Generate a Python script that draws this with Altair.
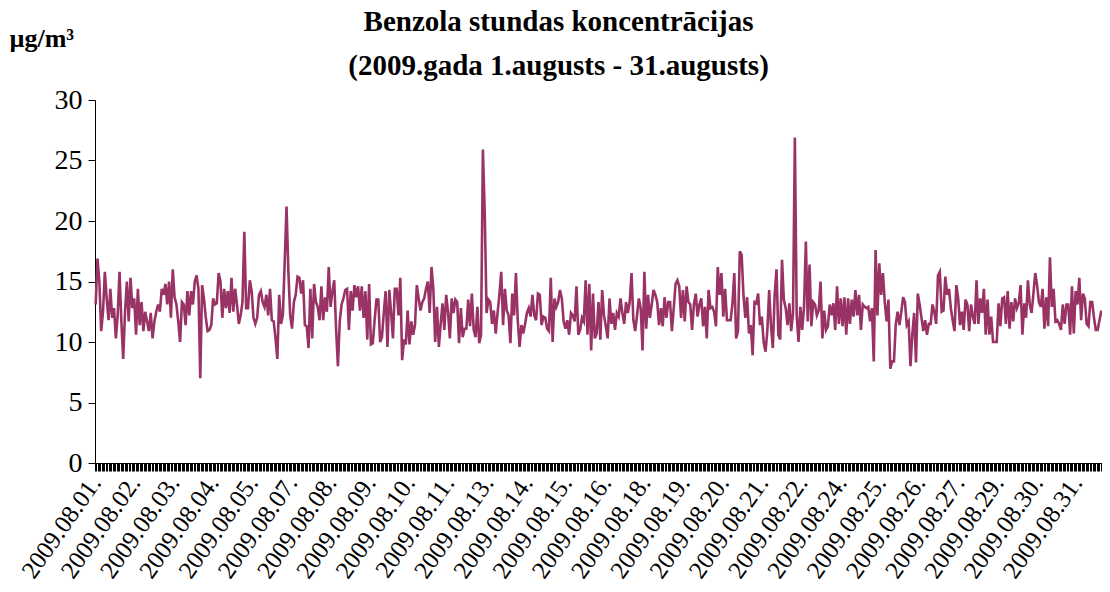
import json
import altair as alt
import pandas as pd

# Hourly benzene concentrations (µg/m3), 1-31 Aug 2009
seg1 = [13.1, 16.9, 15.0, 10.9, 12.5, 15.8, 13.6, 11.8, 14.4, 12.0,
        12.8, 10.3, 12.2, 15.8, 11.7, 8.6, 12.5, 15.0, 11.7, 15.3,
        12.8, 13.6, 10.6, 14.4, 11.4, 13.3, 10.9, 12.5, 11.7, 10.9,
        12.4, 10.3, 11.7, 12.5, 13.1, 12.5, 14.4, 13.9, 14.8, 13.1,
        15.0, 12.0, 16.0, 13.7, 13.1, 11.7, 10.0, 13.3, 13.1, 11.4,
        14.2, 12.2, 14.2, 13.1, 15.0, 15.5, 14.4, 7.0, 14.7, 13.6,
        12.0, 10.9, 11.0, 11.4, 13.6, 13.1, 13.2, 15.7, 15.0, 12.0,
        14.4, 12.8, 14.2, 12.4, 15.3, 12.5, 14.4, 13.1, 11.5, 12.2,
        13.3, 19.1, 12.8, 12.8, 15.1, 14.2, 12.0, 11.5, 12.0, 13.9,
        14.2, 13.3, 12.9, 13.9, 12.2, 14.4, 11.8, 11.7, 10.3, 8.6,
        13.9, 11.5, 12.2, 16.6, 21.2, 15.8, 12.2, 11.1, 13.3, 13.9]

seg2 = [15.4, 15.3, 14.0, 15.1, 11.4, 11.3, 9.5, 14.4, 10.3, 14.8,
        13.3, 12.9, 11.8, 14.6, 11.8, 13.7, 12.5, 16.2, 12.9, 14.2,
        15.1, 11.1, 8.0, 11.7, 13.1, 13.6, 14.3, 14.4, 11.0, 14.2,
        12.6, 14.7, 13.7, 14.6, 12.6, 14.6, 12.0, 14.2, 10.2, 14.8,
        9.8, 9.9, 11.8, 13.5, 13.5, 10.0, 10.4, 12.4, 14.2, 9.6,
        14.3, 12.4, 10.3, 14.4, 14.4, 12.2, 15.3, 8.5, 10.2, 9.8,
        12.6, 9.8, 11.7, 10.6, 11.4, 14.7, 13.6, 12.6, 13.3, 13.6,
        14.4, 15.0, 12.4, 16.2, 14.4, 10.0, 12.9, 9.6, 11.5, 13.2,
        11.0, 13.9, 12.5, 10.3, 13.6, 12.4, 13.5, 13.3, 9.9, 12.8,
        10.4, 11.1, 11.1, 13.5, 11.3, 14.0, 11.0, 10.4, 12.9, 9.9,
        10.6, 25.9, 20.7, 12.4, 13.5, 13.3, 11.5, 12.6]

seg3 = [10.7, 12.4, 13.9, 15.8, 11.4, 14.4, 12.6, 12.2, 9.9, 14.0,
        12.2, 15.7, 11.8, 9.6, 11.4, 10.7, 11.5, 12.4, 12.8, 12.1,
        13.9, 12.2, 11.8, 14.0, 13.9, 11.4, 12.1, 12.0, 11.1, 10.9,
        15.3, 10.0, 13.6, 12.9, 13.3, 14.3, 13.6, 11.7, 11.1, 11.8,
        10.6, 12.4, 12.2, 11.7, 14.6, 10.6, 11.0, 12.0, 11.7, 15.1,
        10.6, 14.8, 9.3, 14.0, 10.3, 10.7, 13.3, 10.2, 14.3, 12.2,
        11.3, 10.3, 13.6, 11.5, 12.4, 11.0, 12.4, 12.1, 13.6, 12.4,
        11.5, 13.3, 12.4, 13.3, 15.7, 11.8, 10.9, 12.2, 13.6, 12.8,
        9.3, 15.8, 11.1, 13.9, 12.0, 13.1, 14.3, 13.9, 13.3, 11.4,
        12.8, 11.3, 13.7, 12.0, 13.3, 13.3, 10.9, 12.8, 14.8, 15.1,
        14.6, 12.0, 14.3, 11.7, 14.6, 13.3, 13.1]

seg4 = [11.0, 13.1, 14.0, 12.1, 13.1, 13.6, 11.3, 12.9, 10.3, 14.3,
        12.8, 12.9, 12.5, 11.3, 16.2, 13.9, 15.7, 12.1, 14.4, 11.8,
        11.8, 11.8, 13.2, 15.7, 10.3, 10.9, 17.5, 17.2, 13.9, 12.0,
        13.7, 10.7, 11.4, 8.9, 13.3, 13.2, 14.0, 11.4, 12.1, 10.0,
        9.2, 10.9, 14.3, 11.3, 9.5, 13.9, 16.0, 10.6, 10.2, 16.8,
        13.5, 12.8, 11.4, 13.2, 10.9, 12.4, 26.9, 12.2, 10.0, 12.9,
        11.0, 12.9, 18.3, 11.7, 16.4, 11.3, 13.3, 13.1, 12.2, 12.6,
        15.0, 10.3, 12.6, 11.0, 11.3, 13.1, 12.2, 13.2, 11.0, 14.6,
        11.5, 13.6, 11.3, 13.7, 10.6, 13.6, 11.5, 13.5, 12.1, 14.3,
        12.2, 13.9, 11.0, 13.1, 12.9, 12.8, 12.9, 11.7, 12.8, 8.4,
        17.6, 12.2, 16.5, 13.9, 15.7, 13.3, 11.7, 13.5, 7.8, 8.4,
        8.4, 11.5, 12.5]

seg5 = [11.4, 12.5, 13.7, 13.3, 11.4, 11.7, 8.0, 10.6, 12.4, 8.3,
        14.0, 13.1, 12.0, 10.9, 11.8, 10.6, 11.5, 11.5, 13.1, 12.5,
        11.5, 15.5, 15.8, 12.5, 12.6, 15.4, 13.9, 14.4, 12.8, 11.8,
        10.9, 14.7, 13.6, 11.4, 12.5, 11.0, 13.5, 13.1, 10.9, 13.1,
        12.1, 11.5, 15.1, 11.5, 13.6, 12.4, 14.4, 10.6, 13.5, 10.6,
        12.1, 10.0, 10.0, 10.0, 13.2, 11.3, 13.6, 13.7, 11.5, 14.2,
        11.1, 13.3, 11.7, 13.6, 12.8, 13.2, 14.7, 10.6, 13.2, 12.0,
        15.1, 13.1, 12.4, 14.0, 15.7, 14.7, 13.3, 12.9, 14.4, 11.1,
        13.7, 11.3, 17.0, 12.9, 14.4, 11.7, 11.8, 11.5, 11.0, 13.1,
        11.5, 13.1, 13.1, 10.6, 14.6, 10.7, 14.2, 13.1, 15.3, 11.8,
        14.0, 13.6, 11.5, 11.3, 13.3, 13.3, 12.0, 11.0, 11.0, 11.8,
        12.6]

date_labels = ["2009.08.01.", "2009.08.02.", "2009.08.03.", "2009.08.04.",
               "2009.08.05.", "2009.08.07.", "2009.08.08.", "2009.08.09.",
               "2009.08.10.", "2009.08.11.", "2009.08.13.", "2009.08.14.",
               "2009.08.15.", "2009.08.16.", "2009.08.18.", "2009.08.19.",
               "2009.08.20.", "2009.08.21.", "2009.08.22.", "2009.08.24.",
               "2009.08.25.", "2009.08.26.", "2009.08.27.", "2009.08.29.",
               "2009.08.30.", "2009.08.31."]
y_ticks = [0, 5, 10, 15, 20, 25, 30]

HOURS = 744
LABEL_STEP = 29

values = seg1 + seg2 + seg3 + seg4 + seg5
n = len(values)
df = pd.DataFrame({
    "hour": [i * (HOURS - 1) / (n - 1) + 0.5 for i in range(n)],
    "value": values,
})

label_expr = (
    f"(datum.value % {LABEL_STEP} == 0 && datum.value / {LABEL_STEP} < {len(date_labels)})"
    f" ? {json.dumps(date_labels)}[datum.value / {LABEL_STEP}] : ''"
)

FONT = "Liberation Serif"

chart = (
    alt.Chart(df)
    .mark_line(color="#993366", strokeWidth=2.6)
    .encode(
        x=alt.X(
            "hour:Q",
            scale=alt.Scale(domain=[0, HOURS], nice=False, zero=False),
            axis=alt.Axis(
                values=list(range(0, HOURS + 1)),
                labelExpr=label_expr,
                labelOverlap=False,
                labelAngle=305,
                labelAlign="right",
                labelBaseline="middle",
                labelFont=FONT,
                labelFontSize=25,
                labelColor="black",
                labelPadding=7,
                labelBound=False,
                labelFlush=False,
                tickSize=8,
                tickColor="black",
                tickWidth=1,
                domainColor="black",
                domainWidth=1,
                grid=False,
                title=None,
            ),
        ),
        y=alt.Y(
            "value:Q",
            scale=alt.Scale(domain=[0, 30], nice=False),
            axis=alt.Axis(
                values=y_ticks,
                labelFont=FONT,
                labelFontSize=28,
                labelColor="black",
                labelPadding=6,
                tickSize=7,
                tickColor="black",
                domainColor="black",
                grid=False,
                title="µg/m³",
                titleFont=FONT,
                titleFontSize=26,
                titleFontWeight="bold",
                titleColor="black",
                titleAngle=0,
                titleAlign="left",
                titleBaseline="middle",
                titleX=-86,
                titleY=-62,
            ),
        ),
    )
    .properties(
        width=1007,
        height=363,
        autosize=alt.AutoSizeParams(type="none"),
        padding={"left": 87, "top": 92, "right": 0, "bottom": 118},
        title=alt.TitleParams(
            text=["Benzola stundas koncentrācijas", "(2009.gada 1.augusts - 31.augusts)"],
            font=FONT,
            fontSize=29,
            fontWeight="bold",
            color="black",
            anchor="middle",
            dx=-40,
            dy=72,
            lineHeight=44,
            offset=16,
        ),
    )
    .configure(background="white")
    .configure_view(stroke=None)
)

chart.save("out.html", embed_options={"renderer": "svg", "actions": False})
